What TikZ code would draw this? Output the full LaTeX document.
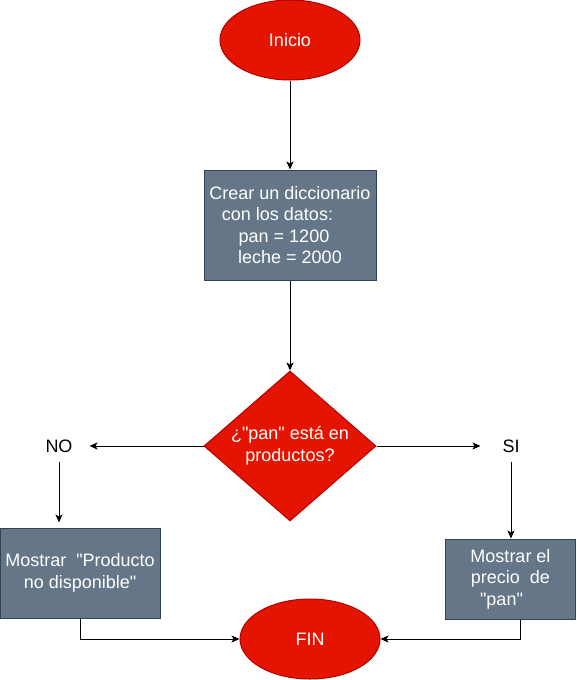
\documentclass[tikz,border=0pt]{standalone}
\usepackage{fontspec}
\setmainfont{Liberation Sans}
\usetikzlibrary{shapes.geometric, arrows.meta, positioning}
\definecolor{rojo}{HTML}{E51400}
\definecolor{rojoborde}{HTML}{B20000}
\definecolor{gris}{HTML}{647687}
\definecolor{grisborde}{HTML}{314354}

\begin{document}
\begin{tikzpicture}[
			x=1pt, y=-1pt,
			node distance=90pt,
			>={Stealth[length=8pt, width=7pt, inset=2pt]},
			line width=1pt,
			font=\fontsize{18}{21.6}\selectfont,
			terminal/.style={draw=rojoborde, fill=rojo, ellipse, minimum width=140, minimum height=80, text=white},
			block/.style={draw=grisborde, fill=gris, rectangle, align=center, inner sep=0pt, text=white},
			decision/.style={draw=rojoborde, fill=rojo, diamond, aspect=1.15, minimum width=172, minimum height=150, inner sep=0pt, align=center, text=white},
			etiqueta/.style={minimum width=60, minimum height=30, inner sep=0pt}
			]
			\useasboundingbox (0,0) rectangle (576,680);
			
			% --- Definicja węzłów ---
			\node[terminal] (inicio) at (290,40) {Inicio};
			\node[block, below=89pt of inicio, minimum width=172, minimum height=110] (crear)
				{Crear un diccionario\\\mbox{con los datos:\hspace{25pt}}\\\mbox{pan = 1200\hspace{12pt}}\\leche = 2000};
			\node[decision, below=90pt of crear] (pregunta) {¿\textquotedbl pan\textquotedbl\ está en\\productos?};
			\node[etiqueta, left=114pt of pregunta] (no) {NO};
			\node[etiqueta, right=104pt of pregunta] (si) {SI};
			\node[block, minimum width=160, minimum height=90] (mostrarno) at (80,573)
				{Mostrar\ \ \textquotedbl Producto\\no disponible\textquotedbl};
			\node[block, minimum width=130, minimum height=80] (mostrarsi) at (510.5,579)
				{Mostrar el\\precio\ \ de\\\mbox{\textquotedbl pan\textquotedbl\hspace{18pt}}};
			\node[terminal] (fin) at (310,639) {FIN};
			
			% --- Strzałki ---
			\draw[->] (inicio) -- (crear);
			\draw[->] (crear) -- (pregunta);
			\draw[->] (pregunta) -- (no);
			\draw[->] (pregunta) -- (si);
			\draw[->, shorten >=5pt] (no.south) -- (no.south |- mostrarno.north);
			\draw[->] (si.south) -- (si.south |- mostrarsi.north);
			
			% --- Do końca ---
			\draw[->] (mostrarno.south) |- (fin.west);
			\draw[->] ([xshift=9.5pt]mostrarsi.south) |- (fin.east);
			
		\end{tikzpicture}
\end{document}
